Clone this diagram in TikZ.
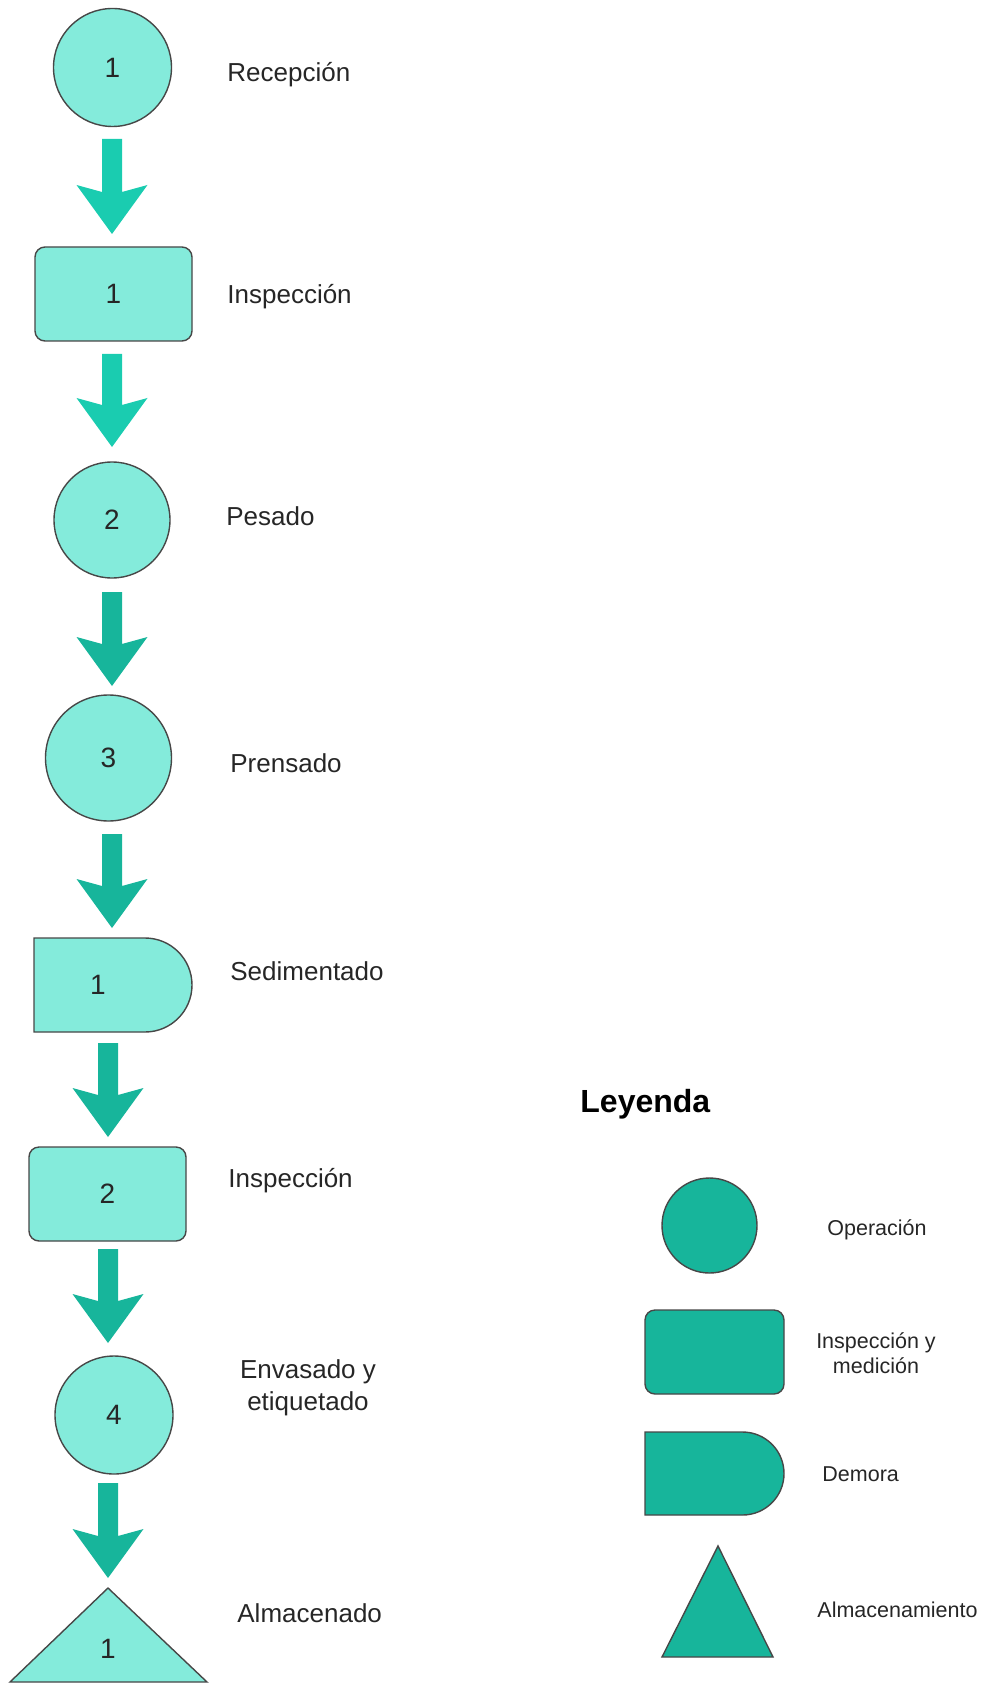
\documentclass[tikz,border=0pt]{standalone}
\usepackage{fontspec}
\setmainfont{Liberation Sans}
\usetikzlibrary{calc}

\definecolor{stepfill}{HTML}{84EBDB}
\definecolor{arrowlight}{HTML}{1ACCB0}
\definecolor{arrowdark}{HTML}{17B59B}
\definecolor{legendfill}{HTML}{17B59B}
\definecolor{edge}{HTML}{474747}
\definecolor{ink}{HTML}{262626}

% block arrow pointing down, from a start coordinate to its tip
\newcommand\flowarrow[3]{%
  \fill[#1] let \p1=(#2), \p2=(#3) in
    (\x1-5pt,\y1) -- (\x1+5pt,\y1) -- (\x1+5pt,\y2+21pt) -- (\x1+17.75pt,\y2+24.5pt)
    -- (\x2,\y2) -- (\x1-17.75pt,\y2+24.5pt) -- (\x1-5pt,\y2+21pt) -- cycle;}

\begin{document}
\begin{tikzpicture}[x=0.5pt,y=-0.5pt,
  shapeline/.style={draw=edge,line width=0.7pt},
  opcircle/.style={shapeline,circle,fill=stepfill,inner sep=0pt,minimum size=#1,
    font=\fontsize{14}{16}\selectfont,text=ink},
  inspbox/.style={shapeline,rectangle,rounded corners=5pt,fill=stepfill,inner sep=0pt,
    minimum width=78.5pt,minimum height=47pt,font=\fontsize{14}{16}\selectfont,text=ink},
  num/.style={inner sep=0pt,font=\fontsize{14}{16}\selectfont,text=ink},
  lbl/.style={anchor=base west,inner sep=0pt,font=\fontsize{13}{16}\selectfont,text=ink},
  keylbl/.style={anchor=base west,inner sep=0pt,font=\fontsize{10.75}{12.5}\selectfont,text=ink},
]
\useasboundingbox (0,0) rectangle (984,1684);

% ---- process steps ----
\node[opcircle=59pt] (c1) at (112.5,67.5) {1};
\node[inspbox] (r1) at (113.5,294) {1};
\node[opcircle=58pt] (c2) at (112,520) {2};
\node[opcircle=63pt] (c3) at (108.5,758) {3};
\filldraw[shapeline,fill=stepfill] (34,938) -- (145,938) arc[start angle=-90,end angle=90,radius=47] -- (34,1032) -- cycle;
\node[num] (d1) at (98,985) {1};
\node[inspbox] (r2) at (107.5,1194) {2};
\node[opcircle=59pt] (c4) at (114,1415) {4};
\filldraw[shapeline,fill=stepfill] (108,1588) -- (207,1682) -- (10,1682) -- cycle;
\node[num] (t1) at (108,1649) {1};

% ---- step names ----
\node[lbl] (l1) at (227,82) {Recepción};
\node[lbl] (l2) at (227,304) {Inspección};
\node[lbl] (l3) at (226,525) {Pesado};
\node[lbl] (l4) at (230,772) {Prensado};
\node[lbl] (l5) at (230,980) {Sedimentado};
\node[lbl] (l6) at (228,1187) {Inspección};
\node[inner sep=0pt,align=center,font=\fontsize{13}{16}\selectfont,text=ink] (l7) at (308,1388) {Envasado y\\etiquetado};
\node[lbl] (l8) at (237,1622) {Almacenado};

% ---- flow arrows ----
\coordinate (a1s) at (112,139);  \coordinate (a1e) at (112,234);
\coordinate (a2s) at (112,354);  \coordinate (a2e) at (112,447);
\coordinate (a3s) at (112,592);  \coordinate (a3e) at (112,686);
\coordinate (a4s) at (112,834);  \coordinate (a4e) at (112,928);
\coordinate (a5s) at (108,1043); \coordinate (a5e) at (108,1137);
\coordinate (a6s) at (108,1249); \coordinate (a6e) at (108,1343);
\coordinate (a7s) at (108,1483); \coordinate (a7e) at (108,1578);
\flowarrow{arrowlight}{a1s}{a1e}
\flowarrow{arrowlight}{a2s}{a2e}
\flowarrow{arrowdark}{a3s}{a3e}
\flowarrow{arrowdark}{a4s}{a4e}
\flowarrow{arrowdark}{a5s}{a5e}
\flowarrow{arrowdark}{a6s}{a6e}
\flowarrow{arrowdark}{a7s}{a7e}

% ---- legend ----
\node[anchor=base west,inner sep=0pt,font=\fontsize{16}{18}\selectfont\bfseries] (leg) at (580,1112) {Leyenda};
\node[shapeline,circle,fill=legendfill,minimum size=47.5pt,inner sep=0pt] (kc) at (709.5,1225.5) {};
\node[keylbl] (k1) at (827,1235) {Operación};
\node[shapeline,rectangle,rounded corners=5pt,fill=legendfill,minimum width=69.5pt,minimum height=42pt,inner sep=0pt] (kr) at (714.5,1352) {};
\node[inner sep=0pt,align=center,font=\fontsize{10.75}{12.5}\selectfont,text=ink] (k2) at (876,1353) {Inspección y\\medición};
\filldraw[shapeline,fill=legendfill] (645,1432) -- (742.5,1432) arc[start angle=-90,end angle=90,radius=41.5] -- (645,1515) -- cycle;
\node[keylbl] (k3) at (822,1481) {Demora};
\filldraw[shapeline,fill=legendfill] (718,1546) -- (773,1657) -- (662,1657) -- cycle;
\node[keylbl] (k4) at (817,1617) {Almacenamiento};
\end{tikzpicture}
\end{document}
